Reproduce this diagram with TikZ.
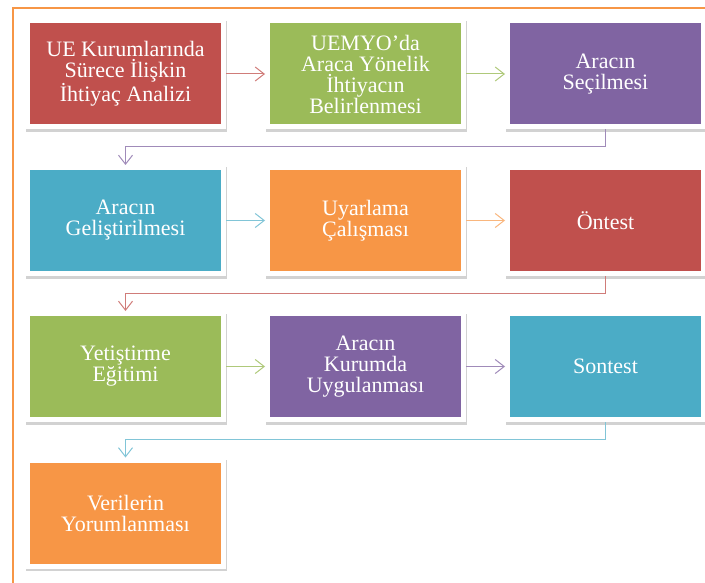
\documentclass[tikz,border=0pt]{standalone}
\usepackage{fontspec}
\setmainfont{Liberation Serif}
\usetikzlibrary{shadows,arrows.meta}
\definecolor{cred}{HTML}{C0504D}
\definecolor{cgreen}{HTML}{9BBB59}
\definecolor{cpurple}{HTML}{8064A2}
\definecolor{cblue}{HTML}{4BACC6}
\definecolor{corange}{HTML}{F79646}
\begin{document}
\begin{tikzpicture}[x=1pt,y=-1pt,
  box/.style={draw=white, line width=5pt, minimum width=196pt, minimum height=106pt,
    inner sep=0pt, align=center, text=white, font=\fontsize{22}{21}\selectfont,
    drop shadow={shadow xshift=0.6pt, shadow yshift=-2.5pt, opacity=0.22, fill=black!80, draw=black!80, line width=5pt}},
  conn/.style={line width=1pt, -{Straight Barb[length=9pt,width=14pt,line width=1pt]}}]
\useasboundingbox (0,0) rectangle (705,583);
\draw[corange, line width=2pt] (12.5,583) -- (12.5,8.5) -- (705,8.5);

\node[box, fill=cred]    (b1)  at (125.5,74)    {UE Kurumlarında\\Sürece İlişkin\\İhtiyaç Analizi};
\node[box, fill=cgreen]  (b2)  at (365.5,74)    {UEMYO’da\\Araca Yönelik\\İhtiyacın\\Belirlenmesi};
\node[box, fill=cpurple] (b3)  at (605.5,74)    {Aracın\\Seçilmesi};
\node[box, fill=cblue]   (b4)  at (125.5,220.5) {Aracın\\Geliştirilmesi};
\node[box, fill=corange] (b5)  at (365.5,220.5) {Uyarlama\\Çalışması};
\node[box, fill=cred]    (b6)  at (605.5,220.5) {Öntest};
\node[box, fill=cgreen]  (b7)  at (125.5,366.5) {Yetiştirme\\Eğitimi};
\node[box, fill=cpurple] (b8)  at (365.5,366.5) {Aracın\\Kurumda\\Uygulanması};
\node[box, fill=cblue]   (b9)  at (605.5,366.5) {Sontest};
\node[box, fill=corange] (b10) at (125.5,513)   {Verilerin\\Yorumlanması};

\draw[conn, cred!75]    (b1.east) -- (b2.west);
\draw[conn, cgreen!80]  (b2.east) -- (b3.west);
\draw[conn, cpurple!75] (b3.south) -- ++(0,17.5) -| (b4.north);
\draw[conn, cblue!70]   (b4.east) -- (b5.west);
\draw[conn, corange!70] (b5.east) -- (b6.west);
\draw[conn, cred!75]    (b6.south) -- ++(0,17) -| (b7.north);
\draw[conn, cgreen!80]  (b7.east) -- (b8.west);
\draw[conn, cpurple!75] (b8.east) -- (b9.west);
\draw[conn, cblue!70]   (b9.south) -- ++(0,17) -| (b10.north);
\end{tikzpicture}
\end{document}
